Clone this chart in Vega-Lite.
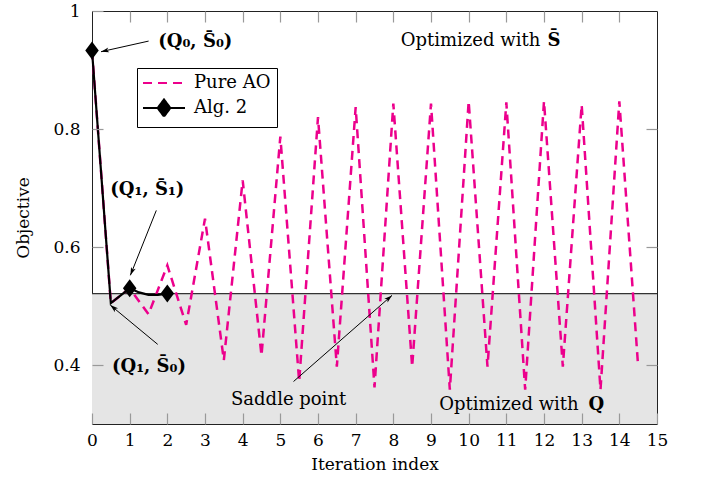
{
  "$schema": "https://vega.github.io/schema/vega-lite/v6.json",
  "width": 565,
  "height": 413,
  "autosize": {"type": "none"},
  "padding": {"left": 92, "top": 11, "right": 45, "bottom": 62},
  "background": "white",
  "config": {
    "view": {"stroke": "#222", "strokeWidth": 1},
    "font": "DejaVu Serif"
  },
  "datasets": {
    "region": [{"x": 0, "x2": 15, "y": 0.3, "y2": 0.521}],
    "lines": [
      {"series": "Pure AO", "x": 0, "y": 0.933},
      {"series": "Pure AO", "x": 0.5, "y": 0.505},
      {"series": "Pure AO", "x": 1, "y": 0.53},
      {"series": "Pure AO", "x": 1.5, "y": 0.486},
      {"series": "Pure AO", "x": 2, "y": 0.569},
      {"series": "Pure AO", "x": 2.5, "y": 0.468},
      {"series": "Pure AO", "x": 3, "y": 0.648},
      {"series": "Pure AO", "x": 3.5, "y": 0.408},
      {"series": "Pure AO", "x": 4, "y": 0.713},
      {"series": "Pure AO", "x": 4.5, "y": 0.416},
      {"series": "Pure AO", "x": 5, "y": 0.787},
      {"series": "Pure AO", "x": 5.5, "y": 0.372},
      {"series": "Pure AO", "x": 6, "y": 0.82},
      {"series": "Pure AO", "x": 6.5, "y": 0.397},
      {"series": "Pure AO", "x": 7, "y": 0.837},
      {"series": "Pure AO", "x": 7.5, "y": 0.362},
      {"series": "Pure AO", "x": 8, "y": 0.843},
      {"series": "Pure AO", "x": 8.5, "y": 0.397},
      {"series": "Pure AO", "x": 9, "y": 0.843},
      {"series": "Pure AO", "x": 9.5, "y": 0.358},
      {"series": "Pure AO", "x": 10, "y": 0.847},
      {"series": "Pure AO", "x": 10.5, "y": 0.397},
      {"series": "Pure AO", "x": 11, "y": 0.845},
      {"series": "Pure AO", "x": 11.5, "y": 0.358},
      {"series": "Pure AO", "x": 12, "y": 0.847},
      {"series": "Pure AO", "x": 12.5, "y": 0.397},
      {"series": "Pure AO", "x": 13, "y": 0.841},
      {"series": "Pure AO", "x": 13.5, "y": 0.358},
      {"series": "Pure AO", "x": 14, "y": 0.847},
      {"series": "Pure AO", "x": 14.5, "y": 0.397},
      {"series": "Alg. 2", "x": 0, "y": 0.933},
      {"series": "Alg. 2", "x": 0.5, "y": 0.505},
      {"series": "Alg. 2", "x": 1, "y": 0.53},
      {"series": "Alg. 2", "x": 1.25, "y": 0.523},
      {"series": "Alg. 2", "x": 1.5, "y": 0.519},
      {"series": "Alg. 2", "x": 1.75, "y": 0.519},
      {"series": "Alg. 2", "x": 2, "y": 0.521}
    ],
    "arrows": [
      {"name": "a1", "x": 1.503, "y": 0.949, "x2": 0.239, "y2": 0.931},
      {"name": "a2", "x": 1.707, "y": 0.662, "x2": 1.019, "y2": 0.552},
      {"name": "a3", "x": 1.744, "y": 0.435, "x2": 0.486, "y2": 0.5015},
      {"name": "a4", "x": 5.35, "y": 0.372, "x2": 7.964, "y2": 0.518}
    ],
    "pointNotes": [
      {"label": "(Q₀, S̄₀)", "x": 1.76, "y": 0.9475},
      {"label": "(Q₁, S̄₁)", "x": 0.486, "y": 0.696},
      {"label": "(Q₁, S̄₀)", "x": 0.53, "y": 0.397}
    ],
    "rightNotes": [
      {"label": "Optimized with", "x": 11.9, "y": 0.95},
      {"label": "Optimized with", "x": 12.92, "y": 0.332}
    ],
    "boldNotes": [
      {"label": "S̄", "x": 12.09, "y": 0.95},
      {"label": "Q", "x": 13.18, "y": 0.332}
    ],
    "centerNotes": [
      {"label": "Saddle point", "x": 5.22, "y": 0.341}
    ]
  },
  "resolve": {"axis": {"x": "independent", "y": "independent"}},
  "layer": [
    {
      "data": {"name": "region"},
      "mark": {"type": "rect", "fill": "#e5e5e5"},
      "encoding": {
        "x": {
          "field": "x", "type": "quantitative",
          "scale": {"domain": [0, 15], "nice": false, "zero": false},
          "axis": {
            "orient": "bottom", "values": [0,1,2,3,4,5,6,7,8,9,10,11,12,13,14,15],
            "tickSize": -11, "tickColor": "#999", "tickWidth": 1.2, "domain": false, "grid": false,
            "labelPadding": 19, "labelFont": "DejaVu Serif", "labelFontSize": 17, "labelColor": "black",
            "labelFlush": false, "labelOverlap": false,
            "title": "Iteration index", "titleFont": "DejaVu Serif", "titleFontSize": 17,
            "titleFontWeight": "normal", "titleColor": "black", "titlePadding": 8, "zindex": 1
          }
        },
        "x2": {"field": "x2"},
        "y": {
          "field": "y", "type": "quantitative",
          "scale": {"domain": [0.3, 1], "nice": false, "zero": false},
          "axis": {
            "orient": "left", "values": [0.4, 0.6, 0.8, 1], "format": "~g",
            "tickSize": -11, "tickColor": "#999", "tickWidth": 1.2, "domain": false, "grid": false,
            "labelPadding": 23, "labelFont": "DejaVu Serif", "labelFontSize": 17, "labelColor": "black",
            "labelFlush": false, "labelOverlap": false,
            "title": "Objective", "titleFont": "DejaVu Serif", "titleFontSize": 17,
            "titleFontWeight": "normal", "titleColor": "black", "titlePadding": 20, "zindex": 1
          }
        },
        "y2": {"field": "y2"}
      }
    },
    {
      "data": {"name": "region"},
      "mark": {"type": "rule", "color": "#333", "strokeWidth": 1.2},
      "encoding": {
        "y": {"field": "y2", "type": "quantitative", "axis": null}
      }
    },
    {
      "data": {"name": "lines"},
      "transform": [{"filter": "datum.series === 'Pure AO'"}],
      "mark": {"type": "line", "strokeDash": [9, 6], "strokeWidth": 2.5},
      "encoding": {
        "x": {
          "field": "x", "type": "quantitative",
          "axis": {
            "orient": "top", "values": [1,2,3,4,5,6,7,8,9,10,11,12,13,14],
            "tickSize": -11, "tickColor": "#999", "tickWidth": 1.2, "domain": false, "grid": false,
            "labels": false, "title": null, "zindex": 1
          }
        },
        "y": {
          "field": "y", "type": "quantitative",
          "axis": {
            "orient": "right", "values": [0.4, 0.6, 0.8],
            "tickSize": -11, "tickColor": "#999", "tickWidth": 1.2, "domain": false, "grid": false,
            "labels": false, "title": null, "zindex": 1
          }
        },
        "color": {
          "field": "series", "type": "nominal",
          "scale": {"domain": ["Pure AO", "Alg. 2"], "range": ["#ec008c", "black"]},
          "legend": {
            "orient": "none", "legendX": 45, "legendY": 57, "title": null,
            "strokeColor": "black", "fillColor": "white", "padding": 6, "rowPadding": 3,
            "labelFont": "DejaVu Serif", "labelFontSize": 18, "labelColor": "black",
            "symbolSize": 144, "symbolStrokeWidth": 2.2, "symbolOffset": 12, "labelOffset": 21,
            "encode": {
              "symbols": {
                "update": {
                  "shape": {"signal": "datum.value === 'Alg. 2' ? 'M-3.5,0H3.5M0,-1.4L1.05,0L0,1.4L-1.05,0Z' : 'M-3.5,0H3.5'"},
                  "fill": {"signal": "datum.value === 'Alg. 2' ? 'black' : 'transparent'"},
                  "strokeDash": {"signal": "datum.value === 'Pure AO' ? [9, 6] : [1, 0]"},
                  "size": {"value": 144},
                  "strokeWidth": {"value": 2.2},
                  "opacity": {"value": 1}
                }
              }
            }
          }
        }
      }
    },
    {
      "data": {"name": "lines"},
      "transform": [{"filter": "datum.series === 'Alg. 2'"}],
      "mark": {"type": "line", "strokeWidth": 2.2},
      "encoding": {
        "x": {"field": "x", "type": "quantitative", "axis": null},
        "y": {"field": "y", "type": "quantitative", "axis": null},
        "color": {"field": "series", "type": "nominal"}
      }
    },
    {
      "data": {"name": "lines"},
      "transform": [{"filter": "datum.series === 'Alg. 2' && (datum.x === 0 || datum.x === 1 || datum.x === 2)"}],
      "mark": {"type": "point", "shape": "M0,-1L0.75,0L0,1L-0.75,0Z", "size": 324, "filled": true, "color": "black", "opacity": 1},
      "encoding": {
        "x": {"field": "x", "type": "quantitative", "axis": null},
        "y": {"field": "y", "type": "quantitative", "axis": null}
      }
    },
    {
      "data": {"name": "arrows"},
      "mark": {"type": "rule", "color": "black", "strokeWidth": 1},
      "encoding": {
        "x": {"field": "x", "type": "quantitative", "axis": null},
        "y": {"field": "y", "type": "quantitative", "axis": null},
        "x2": {"field": "x2"},
        "y2": {"field": "y2"}
      }
    },
    {
      "data": {"name": "arrows"},
      "transform": [{"filter": "datum.name === 'a1'"}],
      "mark": {"type": "point", "shape": "M0,0L0.5,1.6L0,1.2L-0.5,1.6Z", "size": 100, "filled": true, "color": "black", "opacity": 1, "angle": 257},
      "encoding": {
        "x": {"field": "x2", "type": "quantitative", "axis": null},
        "y": {"field": "y2", "type": "quantitative", "axis": null}
      }
    },
    {
      "data": {"name": "arrows"},
      "transform": [{"filter": "datum.name === 'a2'"}],
      "mark": {"type": "point", "shape": "M0,0L0.5,1.6L0,1.2L-0.5,1.6Z", "size": 100, "filled": true, "color": "black", "opacity": 1, "angle": 202},
      "encoding": {
        "x": {"field": "x2", "type": "quantitative", "axis": null},
        "y": {"field": "y2", "type": "quantitative", "axis": null}
      }
    },
    {
      "data": {"name": "arrows"},
      "transform": [{"filter": "datum.name === 'a3'"}],
      "mark": {"type": "point", "shape": "M0,0L0.5,1.6L0,1.2L-0.5,1.6Z", "size": 100, "filled": true, "color": "black", "opacity": 1, "angle": 310},
      "encoding": {
        "x": {"field": "x2", "type": "quantitative", "axis": null},
        "y": {"field": "y2", "type": "quantitative", "axis": null}
      }
    },
    {
      "data": {"name": "arrows"},
      "transform": [{"filter": "datum.name === 'a4'"}],
      "mark": {"type": "point", "shape": "M0,0L0.5,1.6L0,1.2L-0.5,1.6Z", "size": 100, "filled": true, "color": "black", "opacity": 1, "angle": 49},
      "encoding": {
        "x": {"field": "x2", "type": "quantitative", "axis": null},
        "y": {"field": "y2", "type": "quantitative", "axis": null}
      }
    },
    {
      "data": {"name": "pointNotes"},
      "mark": {"type": "text", "align": "left", "baseline": "middle", "font": "DejaVu Serif", "fontSize": 18, "fontWeight": "bold", "color": "black"},
      "encoding": {
        "x": {"field": "x", "type": "quantitative", "axis": null},
        "y": {"field": "y", "type": "quantitative", "axis": null},
        "text": {"field": "label"}
      }
    },
    {
      "data": {"name": "rightNotes"},
      "mark": {"type": "text", "align": "right", "baseline": "middle", "font": "DejaVu Serif", "fontSize": 18, "color": "black"},
      "encoding": {
        "x": {"field": "x", "type": "quantitative", "axis": null},
        "y": {"field": "y", "type": "quantitative", "axis": null},
        "text": {"field": "label"}
      }
    },
    {
      "data": {"name": "boldNotes"},
      "mark": {"type": "text", "align": "left", "baseline": "middle", "font": "DejaVu Serif", "fontSize": 18, "fontWeight": "bold", "color": "black"},
      "encoding": {
        "x": {"field": "x", "type": "quantitative", "axis": null},
        "y": {"field": "y", "type": "quantitative", "axis": null},
        "text": {"field": "label"}
      }
    },
    {
      "data": {"name": "centerNotes"},
      "mark": {"type": "text", "align": "center", "baseline": "middle", "font": "DejaVu Serif", "fontSize": 18, "color": "black"},
      "encoding": {
        "x": {"field": "x", "type": "quantitative", "axis": null},
        "y": {"field": "y", "type": "quantitative", "axis": null},
        "text": {"field": "label"}
      }
    }
  ]
}
